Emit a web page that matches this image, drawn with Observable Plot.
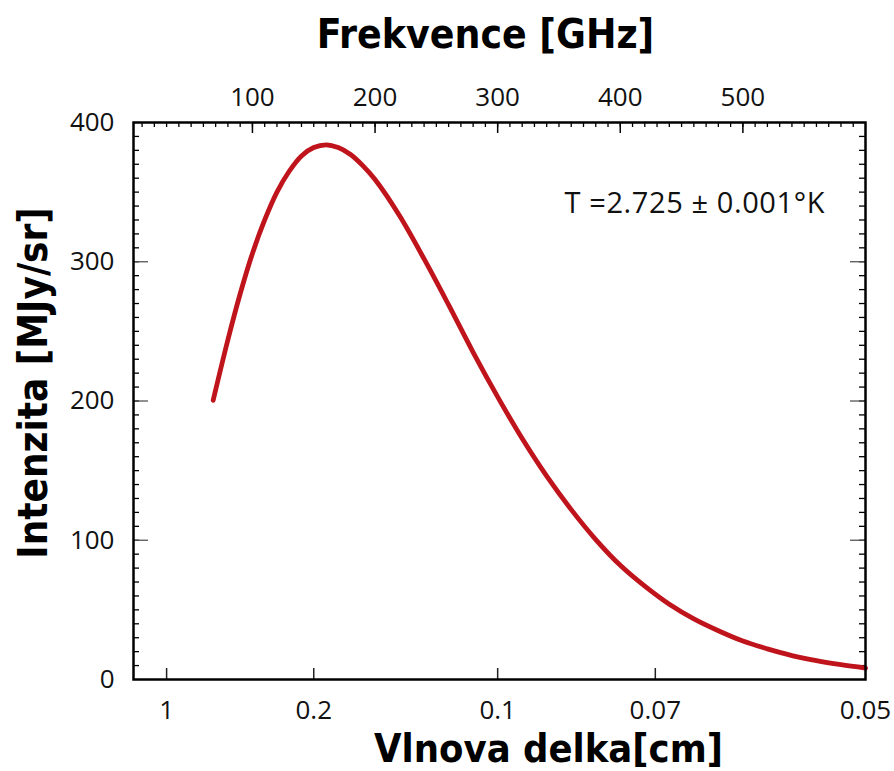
<!DOCTYPE html>
<html>
<head>
<meta charset="utf-8">
<script src="https://cdn.jsdelivr.net/npm/d3@7"></script>
<script src="https://cdn.jsdelivr.net/npm/@observablehq/plot@0.6"></script>
<style>
  html, body { margin: 0; padding: 0; background: #ffffff; }
  #chart { width: 894px; height: 771px; }
</style>
</head>
<body>
<div id="chart"></div>
<script>
// ---- Data ----
// Frequency of each sampled point on the curve (GHz)
const freqGHz = [68, 70, 80, 90, 100, 110, 120, 130, 140, 150, 160, 170, 180, 190, 200,
                 220, 240, 260, 280, 300, 320, 340, 360, 380, 400, 420, 440, 460, 480,
                 500, 520, 540, 560, 580, 600];
// Intensity at those frequencies (MJy/sr)
const intensity = [200.5, 208, 244, 277, 306, 330, 350, 365, 376, 382, 384, 382, 377, 369, 359,
                   333, 302, 269, 235, 203, 173, 146, 122, 100.5, 82, 67, 54, 43.5, 35,
                   27.6, 22, 17.2, 13.5, 10.6, 8.2];

// Axis tick labels
const freqTicks = [100, 200, 300, 400, 500];          // top axis (GHz)
const intensityTicks = [0, 100, 200, 300, 400];       // left axis (MJy/sr)
const wavelengthTicks = [1, 0.2, 0.1, 0.07, 0.05];    // bottom axis (cm)
const wavelengthLabels = ["1", "0.2", "0.1", "0.07", "0.05"];

// Text
const titleTop = "Frekvence [GHz]";
const titleBottom = "Vlnova delka[cm]";
const titleLeft = "Intenzita [MJy/sr]";
const note = "T =2.725 \u00b1 0.001\u00b0K";

// ---- Layout ----
const W = 894, H = 771;
const mt = 122, mb = 92, ml = 133, mr = 29;
const plotH = H - mt - mb;
const plotW = W - ml - mr;
const C = 30; // GHz·cm, wavelength -> frequency

const data = freqGHz.map((f, i) => ({f, v: intensity[i]}));
const minorX = d3.range(10, 600, 10);
const minorY = d3.range(10, 400, 10);
const majorY = [100, 200, 300];
const wlFreq = wavelengthTicks.map(w => C / w);
const wlLabel = new Map(wlFreq.map((f, i) => [f, wavelengthLabels[i]]));

const titleFont = "'DejaVu Sans Condensed', 'DejaVu Sans', sans-serif";
const tickFont = "'Open Sans', sans-serif";

const chart = Plot.plot({
  width: W,
  height: H,
  marginTop: mt,
  marginBottom: mb,
  marginLeft: ml,
  marginRight: mr,
  style: {fontFamily: tickFont, fontSize: "26px", background: "#ffffff", color: "#000000"},
  x: {domain: [3, 600], label: null},
  y: {domain: [0, 400], label: null},
  marks: [
    // inward ticks, top
    Plot.ruleX(minorX, {x: d => d, insetBottom: plotH - 5, stroke: "#000", strokeWidth: 1.3}),
    Plot.ruleX(freqTicks, {x: d => d, insetBottom: plotH - 11, stroke: "#000", strokeWidth: 1.5}),
    // inward ticks, bottom (wavelength)
    Plot.ruleX(wlFreq.slice(0, 4), {x: d => d, insetTop: plotH - 11, stroke: "#222", strokeWidth: 1.5}),
    // inward ticks, left
    Plot.ruleY(minorY, {y: d => d, insetRight: plotW - 6, stroke: "#000", strokeWidth: 1.3}),
    Plot.ruleY(majorY, {y: d => d, insetRight: plotW - 15, stroke: "#555", strokeWidth: 1.3}),
    // inward ticks, right
    Plot.ruleY(minorY, {y: d => d, insetLeft: plotW - 6, stroke: "#000", strokeWidth: 1.3}),
    Plot.ruleY(majorY, {y: d => d, insetLeft: plotW - 15, stroke: "#555", strokeWidth: 1.3}),
    // tick labels
    Plot.axisX(freqTicks, {anchor: "top", tickSize: 0, tickPadding: 17, fontSize: 26, fill: "#111"}),
    Plot.axisX(wlFreq, {anchor: "bottom", tickSize: 0, tickPadding: 21, fontSize: 26, fill: "#111",
      tickFormat: d => wlLabel.get(d)}),
    Plot.axisY(intensityTicks, {anchor: "left", tickSize: 0, tickPadding: 19, fontSize: 26, fill: "#111"}),
    // curve
    Plot.line(data, {x: "f", y: "v", stroke: "#c0141c", strokeWidth: 4.8, curve: "catmull-rom"}),
    // frame
    Plot.frame({stroke: "#000", strokeWidth: 2.5}),
    // annotation
    Plot.text([note], {frameAnchor: "top-left", textAnchor: "start", lineAnchor: "bottom",
      dx: 431, dy: 90, fontSize: 29, fill: "#111", className: "note"}),
    // titles
    Plot.text([titleTop], {frameAnchor: "top", textAnchor: "middle", lineAnchor: "bottom", dx: -14, dy: -75,
      fontSize: 40.5, fontWeight: "bold", fontFamily: titleFont, fill: "#000"}),
    Plot.text([titleBottom], {frameAnchor: "bottom", textAnchor: "middle", lineAnchor: "bottom", dx: 49, dy: 82,
      fontSize: 39.5, fontWeight: "bold", fontFamily: titleFont, fill: "#000"}),
    Plot.text([titleLeft], {frameAnchor: "left", textAnchor: "middle", lineAnchor: "bottom", rotate: -90,
      dx: -87, dy: -18, fontSize: 40, fontWeight: "bold", fontFamily: titleFont, fill: "#000"})
  ]
});

d3.select(chart).selectAll("g.note text").style("letter-spacing", "0.6px");

document.getElementById("chart").appendChild(chart);
</script>
</body>
</html>
